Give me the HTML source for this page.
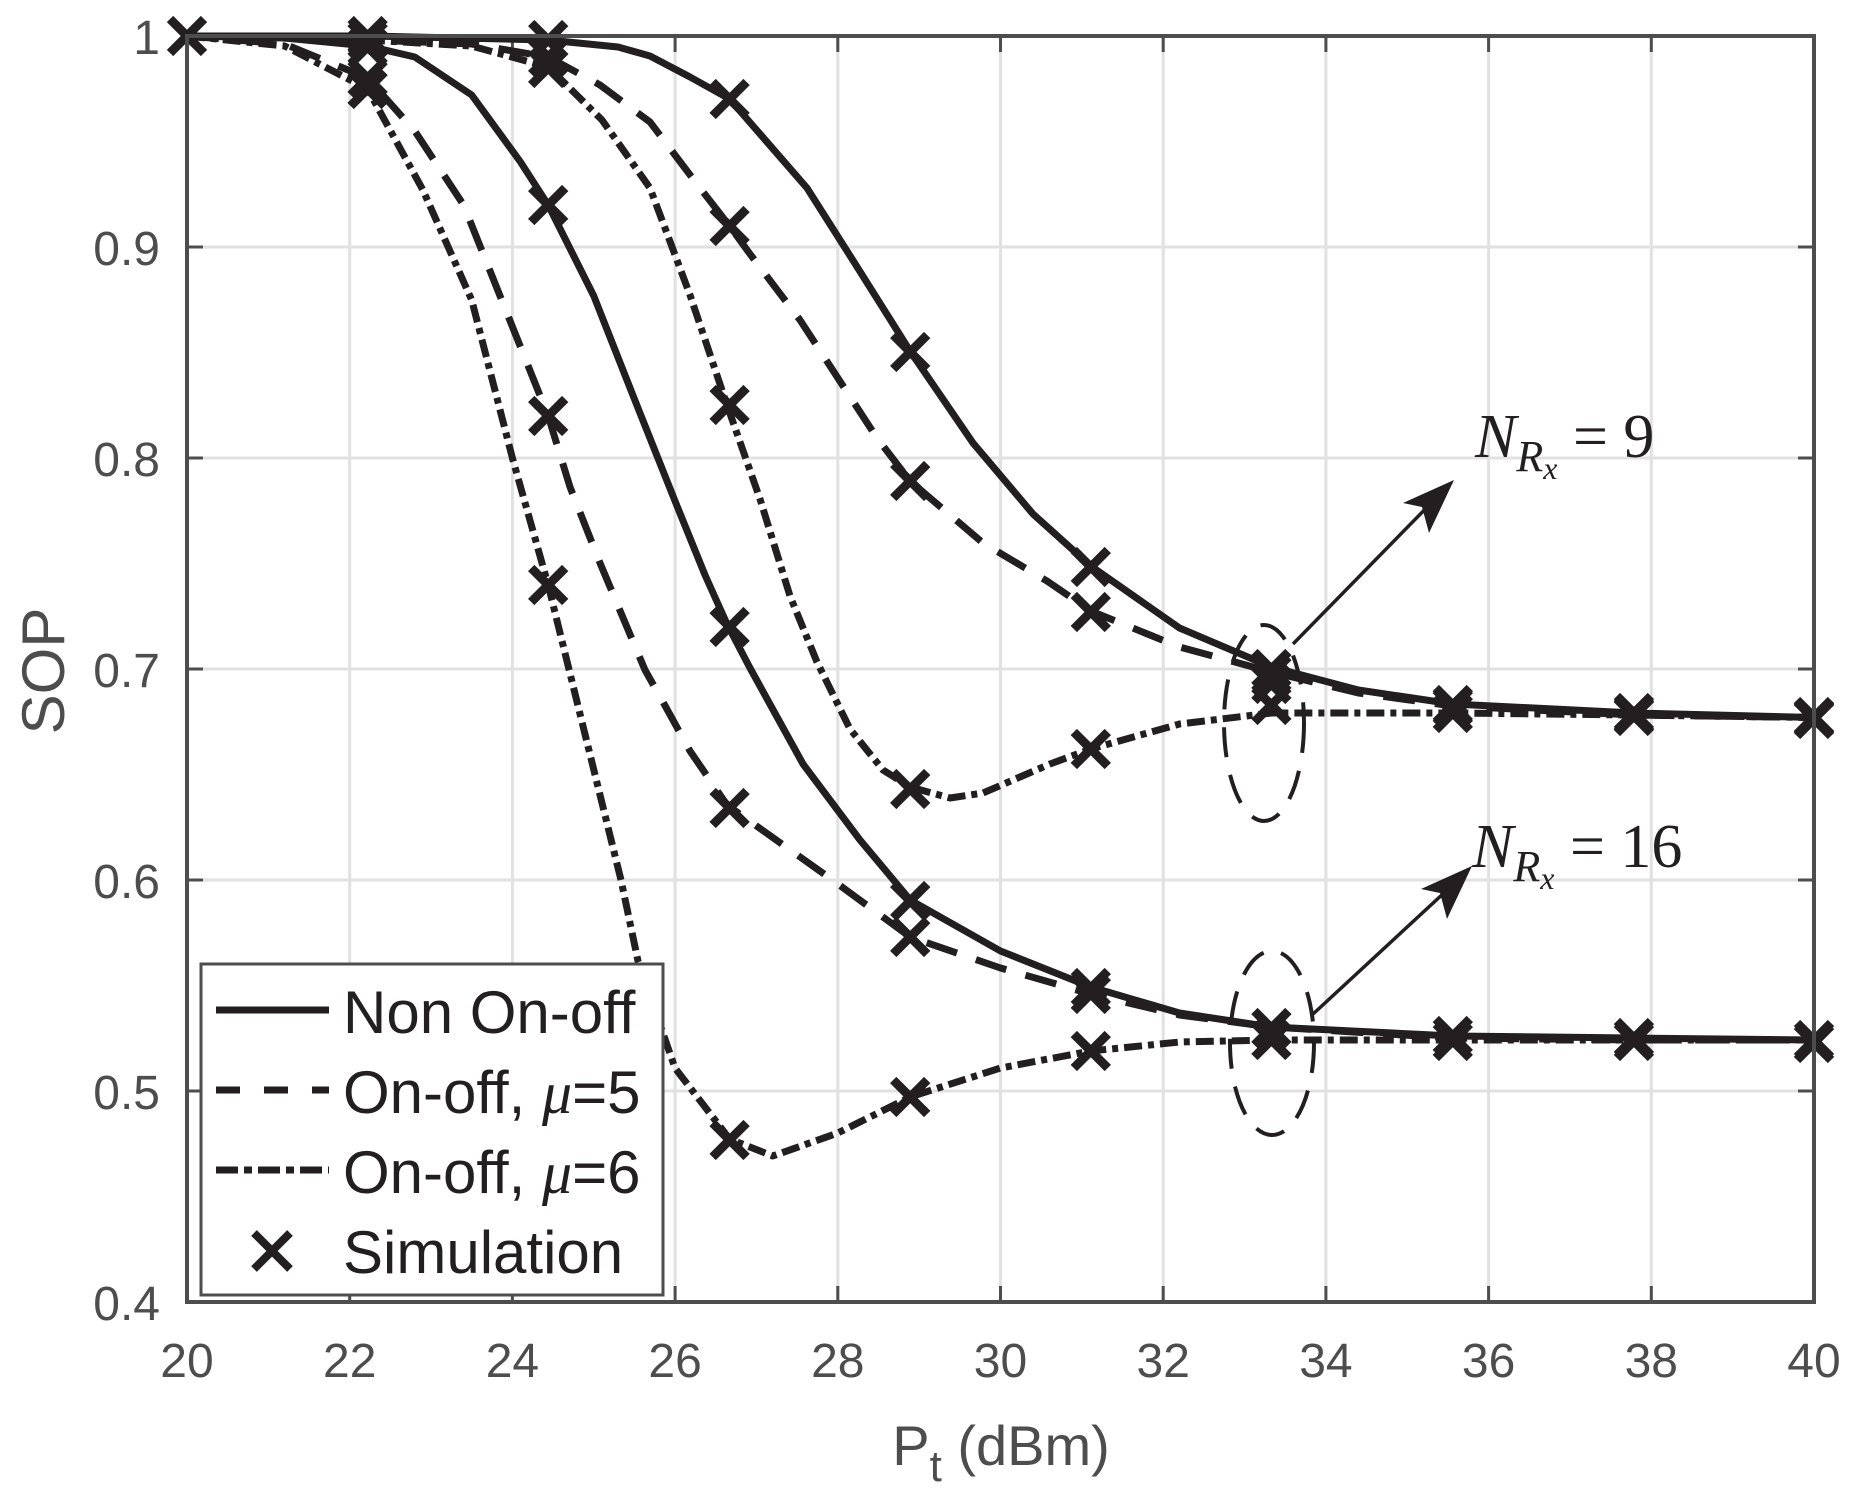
<!DOCTYPE html>
<html><head><meta charset="utf-8"><style>
html,body{margin:0;padding:0;background:#fff;}
svg{display:block;}
</style></head><body>
<svg width="1860" height="1510" viewBox="0 0 1860 1510" xmlns="http://www.w3.org/2000/svg">
<defs>
<path id="mk" d="M-17,-17L17,17M17,-17L-17,17" stroke="#231f20" stroke-width="9" fill="none"/>
</defs>
<rect width="1860" height="1510" fill="#fff"/>
<g stroke="#e1e1e1" stroke-width="3">
<line x1="349.7" y1="36" x2="349.7" y2="1302"/><line x1="512.4" y1="36" x2="512.4" y2="1302"/>
<line x1="675.1" y1="36" x2="675.1" y2="1302"/><line x1="837.8" y1="36" x2="837.8" y2="1302"/>
<line x1="1000.5" y1="36" x2="1000.5" y2="1302"/><line x1="1163.2" y1="36" x2="1163.2" y2="1302"/>
<line x1="1325.9" y1="36" x2="1325.9" y2="1302"/><line x1="1488.6" y1="36" x2="1488.6" y2="1302"/>
<line x1="1651.3" y1="36" x2="1651.3" y2="1302"/>
<line x1="187" y1="1091" x2="1814" y2="1091"/><line x1="187" y1="880" x2="1814" y2="880"/>
<line x1="187" y1="669" x2="1814" y2="669"/><line x1="187" y1="458" x2="1814" y2="458"/>
<line x1="187" y1="247" x2="1814" y2="247"/>
</g>
<g stroke="#4d4d4d" stroke-width="3">
<path d="M349.7,1302v-16M512.4,1302v-16M675.1,1302v-16M837.8,1302v-16M1000.5,1302v-16M1163.2,1302v-16M1325.9,1302v-16M1488.6,1302v-16M1651.3,1302v-16
M349.7,36v16M512.4,36v16M675.1,36v16M837.8,36v16M1000.5,36v16M1163.2,36v16M1325.9,36v16M1488.6,36v16M1651.3,36v16
M187,1091h16M187,880h16M187,669h16M187,458h16M187,247h16
M1814,1091h-16M1814,880h-16M1814,669h-16M1814,458h-16M1814,247h-16"/>
</g>
<g font-family="Liberation Sans, sans-serif" font-size="48" fill="#4d4d4d">
<g text-anchor="middle">
<text x="187" y="1377">20</text><text x="349.7" y="1377">22</text><text x="512.4" y="1377">24</text>
<text x="675.1" y="1377">26</text><text x="837.8" y="1377">28</text><text x="1000.5" y="1377">30</text>
<text x="1163.2" y="1377">32</text><text x="1325.9" y="1377">34</text><text x="1488.6" y="1377">36</text>
<text x="1651.3" y="1377">38</text><text x="1814" y="1377">40</text>
</g>
<g text-anchor="end">
<text x="160" y="1320">0.4</text><text x="160" y="1109">0.5</text><text x="160" y="898">0.6</text>
<text x="160" y="687">0.7</text><text x="160" y="476">0.8</text><text x="160" y="265">0.9</text>
<text x="160" y="54">1</text>
</g>
</g>
<g fill="none" stroke="#231f20" stroke-width="7" stroke-linejoin="round">
<polyline points="187,36 367.6,36 548.2,40 618,47 650,56 690,77 729.6,99 807,188 854,262 910,351 973,443 1033,514 1090.8,566 1179.5,628 1271.4,667 1358.4,690 1452.8,704 1633.9,713 1814,717.5"/>
<polyline stroke-dasharray="32,20" points="187,36 367.6,40 471.7,44 548.2,57 600,85 650,122 700,188 729.6,226 750,254 800,320 877,438 910,481 983,543 1047,581 1090.8,611 1179.5,647 1271.4,672 1358.4,693 1452.8,706 1633.9,715 1814,717.5"/>
<polyline stroke-dasharray="18,6,6,6" points="187,36 367.6,40 471.7,46 548.2,67 602,120 650,188 690,295 727,405 760,499 790,596 817,662 850,729 883,770 910,787 950,798 983,793 1050,764 1090.8,749 1179.5,724 1271.4,713 1452.8,713 1633.9,715 1814,717.5"/>
<polyline points="187,36 284.6,38 367.6,46 414.8,57 471.7,95 520.5,162 548.2,205 593.8,296 634,398 675,501 705,575 727,624 750,668 803,764 860,840 910.2,900 1000.5,951 1090.8,987 1179.5,1013 1271.4,1027 1452.8,1036 1633.9,1038 1814,1040"/>
<polyline stroke-dasharray="32,20" points="187,36 284.6,44 367.6,78 414.8,131 463.6,205 548.2,416 570,487 600,563 645,670 663,702 690,751 727,805 829.7,878 910.2,937 1000.5,968 1090.8,994 1179.5,1015 1271.4,1027 1452.8,1038 1633.9,1040 1814,1040"/>
<polyline stroke-dasharray="18,6,6,6" points="187,36 284.6,46 367.6,89 422.9,190 471.7,300 512.4,458 548.2,585 581.5,720 621,880 638,961 675,1068 729.6,1139 772.7,1156 837.8,1133 910.2,1097 1000.5,1068 1090.8,1051 1179.5,1042 1271.4,1040 1814,1040"/>
</g>
<g>
<use href="#mk" x="187" y="36"/><use href="#mk" x="367.6" y="36"/><use href="#mk" x="548.2" y="40"/><use href="#mk" x="729.6" y="99"/><use href="#mk" x="910.2" y="352"/><use href="#mk" x="1090.8" y="567"/><use href="#mk" x="1271.4" y="669"/><use href="#mk" x="1452.8" y="705"/><use href="#mk" x="1633.9" y="713"/><use href="#mk" x="1814" y="717"/>
<use href="#mk" x="367.6" y="40"/><use href="#mk" x="548.2" y="57"/><use href="#mk" x="729.6" y="226"/><use href="#mk" x="910.2" y="481"/><use href="#mk" x="1090.8" y="612"/><use href="#mk" x="1271.4" y="674"/><use href="#mk" x="1452.8" y="707"/><use href="#mk" x="1633.9" y="715"/><use href="#mk" x="1814" y="718"/>
<use href="#mk" x="548.2" y="68"/><use href="#mk" x="729.6" y="405"/><use href="#mk" x="910.2" y="789"/><use href="#mk" x="1090.8" y="749"/><use href="#mk" x="1271.4" y="705"/><use href="#mk" x="1271.4" y="684"/><use href="#mk" x="1452.8" y="713"/><use href="#mk" x="1633.9" y="716"/><use href="#mk" x="1814" y="719"/>
<use href="#mk" x="367.6" y="47"/><use href="#mk" x="548.2" y="205"/><use href="#mk" x="729.6" y="627"/><use href="#mk" x="910.2" y="901"/><use href="#mk" x="1090.8" y="988"/><use href="#mk" x="1271.4" y="1028"/><use href="#mk" x="1452.8" y="1036"/><use href="#mk" x="1633.9" y="1038"/><use href="#mk" x="1814" y="1040"/>
<use href="#mk" x="367.6" y="78"/><use href="#mk" x="548.2" y="416"/><use href="#mk" x="729.6" y="808"/><use href="#mk" x="910.2" y="937"/><use href="#mk" x="1090.8" y="994"/><use href="#mk" x="1271.4" y="1040"/><use href="#mk" x="1452.8" y="1041"/><use href="#mk" x="1633.9" y="1041"/><use href="#mk" x="1814" y="1043"/>
<use href="#mk" x="367.6" y="89"/><use href="#mk" x="548.2" y="585"/><use href="#mk" x="729.6" y="1140"/><use href="#mk" x="910.2" y="1097"/><use href="#mk" x="1090.8" y="1051"/>
</g>
<rect x="187" y="36" width="1627" height="1266" fill="none" stroke="#4d4d4d" stroke-width="4"/>
<text x="64" y="671" transform="rotate(-90 64 671)" text-anchor="middle" font-family="Liberation Sans, sans-serif" font-size="60" fill="#4d4d4d">SOP</text>
<text x="1001" y="1465" text-anchor="middle" font-family="Liberation Sans, sans-serif" font-size="56" fill="#4d4d4d">P<tspan dy="16" font-size="44">t</tspan><tspan dy="-16"> (dBm)</tspan></text>
<ellipse cx="1264" cy="723" rx="40" ry="98" fill="none" stroke="#231f20" stroke-width="4" stroke-dasharray="30,18"/>
<ellipse cx="1272" cy="1043" rx="42" ry="92" fill="none" stroke="#231f20" stroke-width="4" stroke-dasharray="30,18"/>
<line x1="1293" y1="644" x2="1440" y2="494" stroke="#231f20" stroke-width="3.5"/>
<polygon points="1454,480 1403,503 1422,507 1429,533" fill="#231f20"/>
<line x1="1312" y1="1015" x2="1458" y2="880" stroke="#231f20" stroke-width="3.5"/>
<polygon points="1472,866 1421,889 1440,893 1447,919" fill="#231f20"/>
<g font-family="Liberation Serif, serif" fill="#231f20">
<text x="1475" y="457" font-size="62" font-style="italic">N<tspan font-size="44" dy="14">R<tspan font-size="32" dy="8">x</tspan></tspan><tspan dy="-22" font-style="normal"> = 9</tspan></text>
<text x="1472" y="867" font-size="62" font-style="italic">N<tspan font-size="44" dy="14">R<tspan font-size="32" dy="8">x</tspan></tspan><tspan dy="-22" font-style="normal"> = 16</tspan></text>
</g>
<rect x="201" y="964" width="462" height="331" fill="#fff" stroke="#4d4d4d" stroke-width="3"/>
<g stroke="#231f20" stroke-width="7">
<line x1="216" y1="1010" x2="329" y2="1010"/>
<line x1="216" y1="1090" x2="329" y2="1090" stroke-dasharray="24,24"/>
<line x1="216" y1="1170" x2="329" y2="1170" stroke-dasharray="22,6,8,6"/>
<path d="M254,1233 L290,1269 M290,1233 L254,1269" stroke-width="8"/>
</g>
<g font-family="Liberation Sans, sans-serif" font-size="60" fill="#231f20">
<text x="343" y="1033">Non On-off</text>
<text x="343" y="1113">On-off, <tspan font-family="Liberation Serif, serif" font-style="italic">μ</tspan>=5</text>
<text x="343" y="1193">On-off, <tspan font-family="Liberation Serif, serif" font-style="italic">μ</tspan>=6</text>
<text x="343" y="1273">Simulation</text>
</g>
</svg>
</body></html>
